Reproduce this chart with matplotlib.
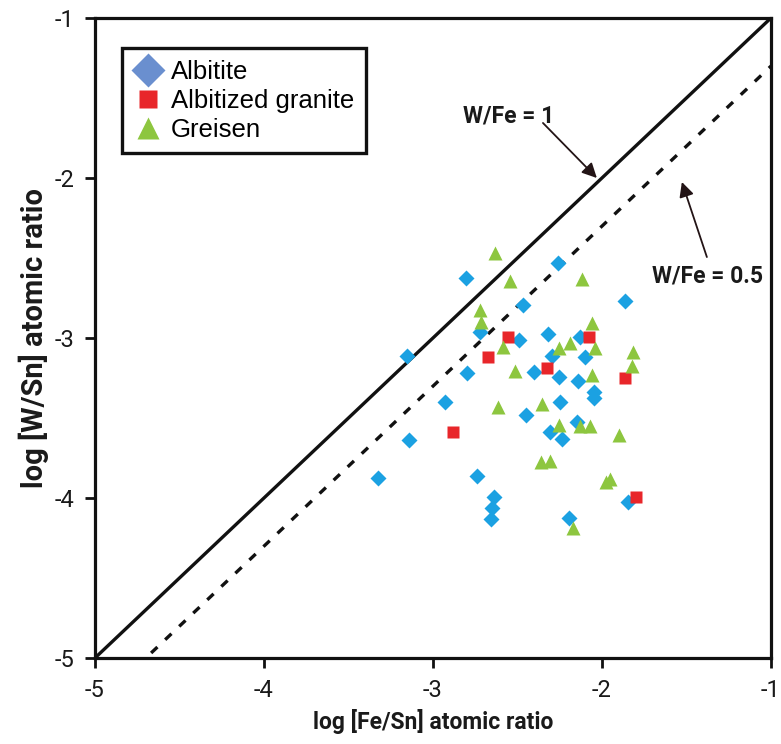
import numpy as np
import matplotlib
matplotlib.use('Agg')
import matplotlib.pyplot as plt
from matplotlib.lines import Line2D

# data (log atomic ratios)
albitite_x = [-2.805, -2.467, -2.260, -1.864, -2.722, -2.491, -3.154, -2.799, -2.320, -2.130,
              -2.296, -2.101, -2.402, -2.254, -2.142, -2.047, -2.047, -2.249, -2.929, -2.450,
              -2.148, -2.308, -2.237, -3.142, -3.325, -2.740, -2.639, -2.651, -2.657, -1.846, -2.195]
albitite_y = [-2.625, -2.794, -2.531, -2.769, -2.963, -3.013, -3.113, -3.219, -2.975, -2.994,
              -3.113, -3.119, -3.213, -3.244, -3.269, -3.338, -3.375, -3.400, -3.400, -3.481,
              -3.525, -3.588, -3.631, -3.638, -3.875, -3.863, -3.994, -4.063, -4.131, -4.025, -4.125]

granite_x = [-2.556, -2.077, -2.675, -2.325, -1.864, -2.882, -1.799]
granite_y = [-2.994, -2.994, -3.119, -3.188, -3.250, -3.588, -3.994]

greisen_x = [-2.633, -2.544, -2.118, -2.722, -2.716, -2.059, -2.586, -2.189, -2.254, -2.041,
             -1.817, -1.822, -2.515, -2.059, -2.615, -2.355, -2.254, -2.130, -2.071, -1.899,
             -2.361, -2.308, -1.976, -1.953, -2.172]
greisen_y = [-2.469, -2.644, -2.631, -2.825, -2.900, -2.906, -3.056, -3.031, -3.063, -3.063,
             -3.088, -3.175, -3.206, -3.231, -3.431, -3.413, -3.544, -3.550, -3.550, -3.606,
             -3.775, -3.769, -3.900, -3.881, -4.188]

ratios = [1, 0.5]
ratio_labels = ['W/Fe = 1', 'W/Fe = 0.5']
labels = ['Albitite', 'Albitized granite', 'Greisen']

narrow = ['Roboto', 'DejaVu Sans']

fig = plt.figure(figsize=(7.81, 7.44), dpi=100)
ax = fig.add_axes([0.1216, 0.1156, 0.8655, 0.8602])

# W/Fe lines: log(W/Sn) = log(Fe/Sn) + log(W/Fe)
xx = np.array([-5.0, -1.0])
ax.plot(xx, xx + np.log10(ratios[0]), color='#111111', lw=2.4, solid_capstyle='butt')
ax.plot(xx, xx + np.log10(ratios[1]), color='#111111', lw=2.4, dashes=(2.6, 3.2))

ax.plot(albitite_x, albitite_y, 'D', color='#1ba1e2', ms=8.3, mec='none', zorder=3)
ax.plot(granite_x, granite_y, 's', color='#e8262a', ms=8.5, mec='none', zorder=3)
ax.plot(greisen_x, greisen_y, '^', color='#8dc63f', ms=10.5, mec='none', zorder=3)

# line labels with arrows
ax.text(-2.55, -1.61, ratio_labels[0], ha='center', va='center', fontsize=16.5,
        fontweight='bold', family=narrow, color='#1a1a1a')
ax.annotate('', xy=(-2.03, -2.0), xytext=(-2.349, -1.656),
            arrowprops=dict(arrowstyle='-|>', color='#231416', lw=1.3, mutation_scale=22,
                            shrinkA=0, shrinkB=0))
ax.text(-1.375, -2.61, ratio_labels[1], ha='center', va='center', fontsize=16.5,
        fontweight='bold', family=narrow, color='#1a1a1a')
ax.annotate('', xy=(-1.527, -2.025), xytext=(-1.379, -2.494),
            arrowprops=dict(arrowstyle='-|>', color='#231416', lw=1.3, mutation_scale=22,
                            shrinkA=0, shrinkB=0))

handles = [Line2D([], [], ls='none', marker='D', color='#6a8fcf', ms=17, mec='none'),
           Line2D([], [], ls='none', marker='s', color='#e8262a', ms=13, mec='none'),
           Line2D([], [], ls='none', marker='^', color='#8dc63f', ms=16, mec='none')]
leg = ax.legend(handles, labels, loc='upper left', bbox_to_anchor=(0.04, 0.953),
                borderaxespad=0,
                prop={'family': ['Liberation Sans', 'DejaVu Sans'], 'size': 18.5},
                frameon=True, fancybox=False, edgecolor='#111111', framealpha=1,
                handlelength=1.1, handletextpad=0.35, labelspacing=0.2, borderpad=0.45)
leg.get_frame().set_linewidth(2.4)

ax.set_xlim(-5, -1)
ax.set_ylim(-5, -1)
ax.set_xticks([-5, -4, -3, -2, -1])
ax.set_yticks([-5, -4, -3, -2, -1])
ax.set_xticklabels(['-5', '-4', '-3', '-2', '-1'])
ax.set_yticklabels(['-5', '-4', '-3', '-2', '-1'])
for lab in ax.get_xticklabels() + ax.get_yticklabels():
    lab.set_family(narrow)
    lab.set_fontsize(17)
    lab.set_color('#1a1a1a')
ax.tick_params(direction='out', length=7, width=2, color='#111111', pad=8)
for s in ax.spines.values():
    s.set_linewidth(2.3)
    s.set_color('#111111')

ax.set_xlabel('log [Fe/Sn] atomic ratio', fontsize=16.5, fontweight='bold', family=narrow,
              labelpad=5, color='#1a1a1a')
ax.set_ylabel('log [W/Sn] atomic ratio', fontsize=21, fontweight='bold', family=narrow,
              labelpad=4, color='#1a1a1a')

fig.savefig('out.png', dpi=100)
